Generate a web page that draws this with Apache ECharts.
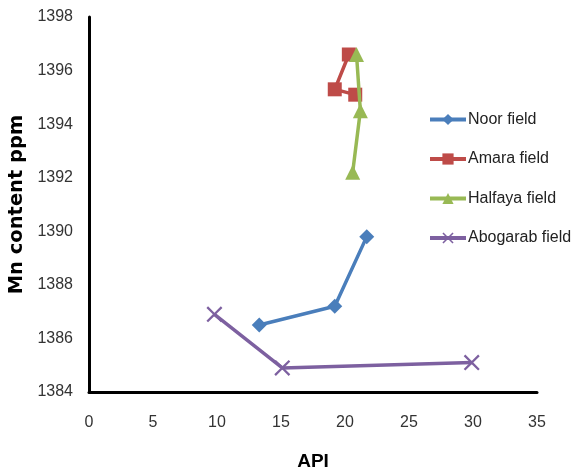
<!DOCTYPE html>
<html><head><meta charset="utf-8">
<script src="https://cdn.jsdelivr.net/npm/echarts@6/dist/echarts.min.js"></script>
<style>html,body{margin:0;padding:0;background:#fff}#c{width:576px;height:470px}</style>
</head><body><div id="c"></div>
<script>
const seriesNames = ['Noor field', 'Amara field', 'Halfaya field', 'Abogarab field'];
const noorAPI = [13.3, 19.2, 21.7];
const noorMn = [1386.5, 1387.2, 1389.8];
const amaraAPI = [20.3, 19.2, 20.8];
const amaraMn = [1396.6, 1395.3, 1395.1];
const halfayaAPI = [20.6, 21.2, 20.9];
const halfayaMn = [1392.2, 1394.5, 1396.6];
const abogarabAPI = [9.8, 15.1, 29.9];
const abogarabMn = [1386.9, 1384.9, 1385.1];
const colors = ['#4A7EBB', '#BE4B48', '#98B954', '#7D60A0'];
const xTicks = {min: 0, max: 35, interval: 5};
const yTicks = {min: 1384, max: 1398, interval: 2};

const pairs = (xs, ys) => xs.map((x, i) => [x, ys[i]]);
const crossPath = 'path://M0,1 L1,0 L5,4 L9,0 L10,1 L6,5 L10,9 L9,10 L5,6 L1,10 L0,9 L4,5 Z';
const symbols = ['diamond', 'rect', 'triangle', crossPath];
const sizes = [15, 14, 15, 16];
const dataSets = [pairs(noorAPI, noorMn), pairs(amaraAPI, amaraMn), pairs(halfayaAPI, halfayaMn), pairs(abogarabAPI, abogarabMn)];
const font = '"Liberation Sans Narrow", "Liberation Sans", Arial, sans-serif';

const chart = echarts.init(document.getElementById('c'), null, {renderer: 'canvas'});
chart.setOption({
  animation: false,
  backgroundColor: '#fff',
  grid: {left: 89, right: 39, top: 17, bottom: 78, containLabel: false, outerBoundsMode: 'none'},
  xAxis: {
    type: 'value', min: xTicks.min, max: xTicks.max, interval: xTicks.interval,
    name: 'API', nameLocation: 'middle', nameGap: 60,
    nameTextStyle: {fontFamily: 'Liberation Sans, Arial, sans-serif', fontWeight: 'bold', fontSize: 19, color: '#000'},
    axisLine: {show: true, lineStyle: {color: '#000', width: 3}},
    axisTick: {show: false},
    splitLine: {show: false},
    axisLabel: {fontFamily: font, fontSize: 16, color: '#333', margin: 23}
  },
  yAxis: {
    type: 'value', min: yTicks.min, max: yTicks.max, interval: yTicks.interval,
    name: 'Mn content ppm', nameLocation: 'middle', nameGap: 54, nameRotate: 90,
    nameTextStyle: {fontFamily: '"DejaVu Sans", sans-serif', fontWeight: 'bold', fontSize: 19.5, color: '#000'},
    axisLine: {show: true, lineStyle: {color: '#000', width: 3}},
    axisTick: {show: false},
    splitLine: {show: false},
    axisLabel: {fontFamily: font, fontSize: 16, color: '#333', margin: 16, formatter: v => String(v)}
  },
  legend: {
    orient: 'vertical', left: 428, top: 111.5, padding: 0, itemGap: 23.5, itemWidth: 36, itemHeight: 14,
    data: seriesNames,
    lineStyle: {width: 4},
    textStyle: {fontFamily: font, fontSize: 16, color: '#222', padding: [0, 0, 0, -3]}
  },
  series: seriesNames.map((n, i) => ({
    name: n, type: 'line', data: dataSets[i],
    symbol: symbols[i], symbolSize: sizes[i],
    lineStyle: {color: colors[i], width: 3.5},
    itemStyle: {color: colors[i]},
    z: 3 + i
  }))
});
</script></body></html>
